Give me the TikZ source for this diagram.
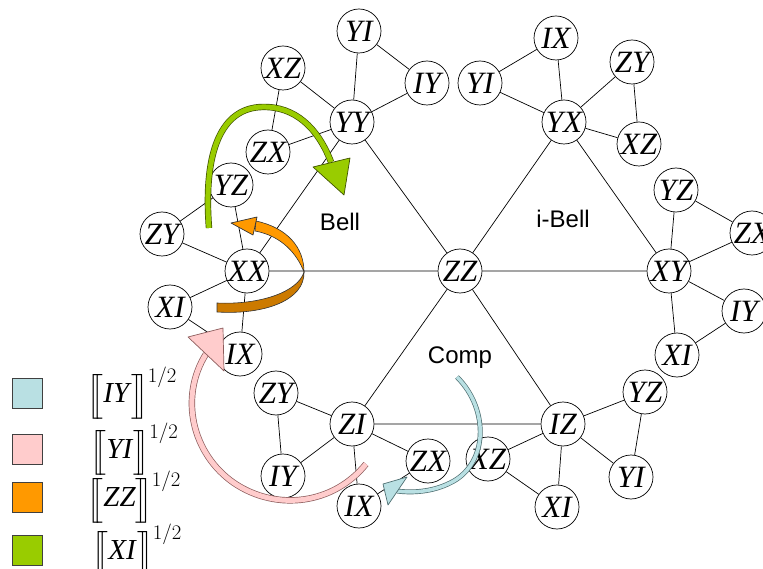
\documentclass[tikz,border=0pt]{standalone}
\usepackage{fontspec}
\setmainfont{Liberation Serif}
\setsansfont{Liberation Sans}
\usepackage{amsmath}
\usepackage{tikz}
\usetikzlibrary{positioning}

\definecolor{iyroot}{HTML}{B9E0E3}
\definecolor{yiroot}{HTML}{FFCCCC}
\definecolor{zzroot}{HTML}{FF9900}
\definecolor{zzback}{HTML}{CC7A00}
\definecolor{xiroot}{HTML}{99CC00}
\definecolor{iyedge}{HTML}{4F6F72}
\definecolor{yiedge}{HTML}{8C5C5C}
\definecolor{xiedge}{HTML}{3F5200}

\newcommand{\halfroot}[1]{$\Big[\mkern-5.5mu\Big[$\textit{#1}$\Big]\mkern-5.5mu\Big]^{1/2}$}

\begin{document}
\begin{tikzpicture}[
        x=1pt, y=-1pt,
        pauli/.style={draw, circle, fill=white, line width=0.7pt, minimum size=44pt,
          inner sep=0pt, font=\fontsize{31}{31}\selectfont\itshape},
        link/.style={line width=0.7pt},
        region/.style={font=\sffamily\fontsize{24}{24}\selectfont},
        ribbon/.style 2 args={draw=#2, double=#1, double distance=5pt, line width=0.7pt},
        arrowhead/.style 2 args={fill=#1, draw=#2, line width=0.7pt, line join=round},
        swatch/.style={draw=black!75, line width=0.8pt, minimum size=30pt, inner sep=0pt},
        keytext/.style={inner sep=0pt, anchor=west, font=\fontsize{29}{32}\selectfont}
      ]
      \useasboundingbox (0,0) rectangle (763,569);

      % the six corners round ZZ
      \node[pauli] (zz) at (460,271) {ZZ};
      \node[pauli] (xx) at (247,271) {XX};
      \node[pauli] (xy) at (669,271) {XY};
      \node[pauli] (yy) at (352,122) {YY};
      \node[pauli] (yx) at (564,122) {YX};
      \node[pauli] (zi) at (352,424) {ZI};
      \node[pauli] (iz) at (563,424) {IZ};

      % leaves of YY
      \node[pauli] (yy-xz) at (283,68) {XZ};
      \node[pauli] (yy-yi) at (359,31) {YI};
      \node[pauli] (yy-iy) at (427,83) {IY};
      \node[pauli] (yy-zx) at (268,152) {ZX};
      % leaves of XX
      \node[pauli] (xx-yz) at (231,185) {YZ};
      \node[pauli] (xx-zy) at (162,234) {ZY};
      \node[pauli] (xx-xi) at (170,307) {XI};
      \node[pauli] (xx-ix) at (240,354) {IX};
      % leaves of YX
      \node[pauli] (yx-ix) at (556,38) {IX};
      \node[pauli] (yx-yi) at (480,83) {YI};
      \node[pauli] (yx-zy) at (632,62) {ZY};
      \node[pauli] (yx-xz) at (639,144) {XZ};
      % leaves of XY
      \node[pauli] (xy-yz) at (676,190) {YZ};
      \node[pauli] (xy-zx) at (752,233) {ZX};
      \node[pauli] (xy-iy) at (744,311) {IY};
      \node[pauli] (xy-xi) at (677,355) {XI};
      % leaves of ZI
      \node[pauli] (zi-zy) at (276,393) {ZY};
      \node[pauli] (zi-iy) at (283,476) {IY};
      \node[pauli] (zi-ix) at (359,506) {IX};
      \node[pauli] (zi-zx) at (428,461) {ZX};
      % leaves of IZ
      \node[pauli] (iz-xz) at (488,459) {XZ};
      \node[pauli] (iz-xi) at (557,507) {XI};
      \node[pauli] (iz-yi) at (631,477) {YI};
      \node[pauli] (iz-yz) at (645,392) {YZ};

      % triangles
      \draw[link] (zz) -- (xx) (zz) -- (yy) (zz) -- (yx)
                  (zz) -- (xy) (zz) -- (zi) (zz) -- (iz);
      \draw[link] (xx) -- (yy) (yx) -- (xy) (zi) -- (iz);

      % spokes and leaf pairs
      \draw[link] (yy) -- (yy-xz) (yy) -- (yy-yi) (yy) -- (yy-iy) (yy) -- (yy-zx)
                  (yy-yi) -- (yy-iy) (yy-xz) -- (yy-zx);
      \draw[link] (xx) -- (xx-yz) (xx) -- (xx-zy) (xx) -- (xx-xi) (xx) -- (xx-ix)
                  (xx-zy) -- (xx-yz) (xx-xi) -- (xx-ix);
      \draw[link] (yx) -- (yx-ix) (yx) -- (yx-yi) (yx) -- (yx-zy) (yx) -- (yx-xz)
                  (yx-yi) -- (yx-ix) (yx-zy) -- (yx-xz);
      \draw[link] (xy) -- (xy-yz) (xy) -- (xy-zx) (xy) -- (xy-iy) (xy) -- (xy-xi)
                  (xy-yz) -- (xy-zx) (xy-iy) -- (xy-xi);
      \draw[link] (zi) -- (zi-zy) (zi) -- (zi-iy) (zi) -- (zi-ix) (zi) -- (zi-zx)
                  (zi-zy) -- (zi-iy) (zi-ix) -- (zi-zx);
      \draw[link] (iz) -- (iz-xz) (iz) -- (iz-xi) (iz) -- (iz-yi) (iz) -- (iz-yz)
                  (iz-xz) -- (iz-xi) (iz-yz) -- (iz-yi);

      \node[region] (bell) at (340,222) {Bell};
      \node[region] (ibell) at (563,219) {i-Bell};
      \node[region] (comp) at (460,358) {Comp};

      % rotation arrows
      \coordinate (xi-from) at (209,228);
      \coordinate (xi-to) at (331,162);
      \coordinate (yi-from) at (366,464);
      \coordinate (yi-to) at (206,354);
      \coordinate (iy-from) at (457,377);
      \coordinate (iy-to) at (397,491);

      % ZZ: twisted loop round XX, back side first
      \filldraw[fill=zzback, draw=black!80, line width=0.6pt]
        (304,272) .. controls (305,300) and (265,315) .. (217,312)
        -- (217,303) .. controls (260,305) and (298,292) .. cycle;
      \filldraw[fill=zzroot, draw=black!80, line width=0.6pt]
        (256,221) .. controls (288,228) and (304,248) .. (304,272)
        .. controls (297,254) and (282,236) .. (255,231) -- cycle;
      \filldraw[arrowhead={zzroot}{black!80}] (231,223) -- (257,217) -- (253,235) -- cycle;

      % XI
      \draw[ribbon={xiroot}{xiedge}] (xi-from) .. controls (203,150) and (222,108) .. (262,107)
        .. controls (295,106) and (318,128) .. (xi-to);
      \filldraw[arrowhead={xiroot}{xiedge}] (313,167) -- (350,158) -- (344,195) -- cycle;

      % YI
      \draw[ribbon={yiroot}{yiedge}] (yi-from) .. controls (334,504) and (277,512) .. (234,483)
        .. controls (192,454) and (179,397) .. (yi-to);
      \filldraw[arrowhead={yiroot}{yiedge}] (188,337) -- (223,328) -- (224,371) -- cycle;

      % IY
      \draw[ribbon={iyroot}{iyedge}, double distance=3.5pt] (iy-from) .. controls (490,410) and (488,465) .. (450,483)
        .. controls (432,492) and (412,493) .. (iy-to);
      \filldraw[arrowhead={iyroot}{iyedge}] (383,484) -- (407,477) -- (388,505) -- cycle;

      % key
      \node[swatch, fill=iyroot] (key-iy) at (27,393) {};
      \node[swatch, fill=yiroot] (key-yi) at (27,449) {};
      \node[swatch, fill=zzroot] (key-zz) at (27,497) {};
      \node[swatch, fill=xiroot] (key-xi) at (27,550) {};
      \node[keytext, right=45pt of key-iy] (lab-iy) {\halfroot{IY}};
      \node[keytext, right=48pt of key-yi] (lab-yi) {\halfroot{YI}};
      \node[keytext, right=45pt of key-zz] (lab-zz) {\halfroot{ZZ}};
      \node[keytext, right=50pt of key-xi] (lab-xi) {\halfroot{XI}};

\end{tikzpicture}
\end{document}
